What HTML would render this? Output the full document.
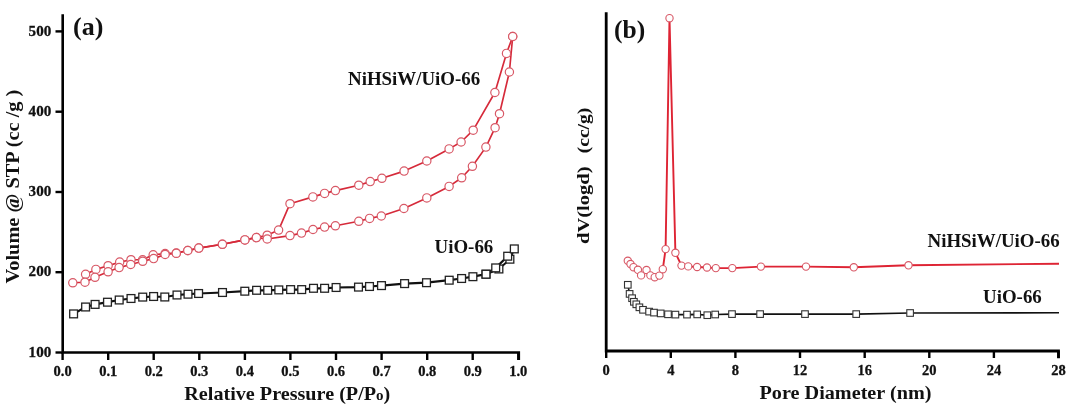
<!DOCTYPE html>
<html><head><meta charset="utf-8"><style>
html,body{margin:0;padding:0;background:#fff;}
svg{display:block;will-change:transform;}
text{font-family:"Liberation Serif", serif;font-weight:bold;fill:#111;}
.tk{stroke:#111;stroke-width:0.3px;}
.tk{font-size:14.5px;}
.lab{font-size:26.5px;}
.leg{font-size:18.9px;}
.ttl{font-size:20.2px;}
</style></head><body>
<svg width="1069" height="410" viewBox="0 0 1069 410">
<rect width="1069" height="410" fill="#fff"/>
<path d="M62.7 14.3 V352.5 H518.8 V360" fill="none" stroke="#000" stroke-width="2.6" stroke-linejoin="miter"/>
<line x1="55.5" y1="31.4" x2="62.7" y2="31.4" stroke="#000" stroke-width="2.4"/>
<text x="51.2" y="35.6" text-anchor="end" class="tk" textLength="22.6" lengthAdjust="spacingAndGlyphs">500</text>
<line x1="55.5" y1="111.7" x2="62.7" y2="111.7" stroke="#000" stroke-width="2.4"/>
<text x="51.2" y="115.9" text-anchor="end" class="tk" textLength="22.6" lengthAdjust="spacingAndGlyphs">400</text>
<line x1="55.5" y1="192.0" x2="62.7" y2="192.0" stroke="#000" stroke-width="2.4"/>
<text x="51.2" y="196.2" text-anchor="end" class="tk" textLength="22.6" lengthAdjust="spacingAndGlyphs">300</text>
<line x1="55.5" y1="272.2" x2="62.7" y2="272.2" stroke="#000" stroke-width="2.4"/>
<text x="51.2" y="276.4" text-anchor="end" class="tk" textLength="22.6" lengthAdjust="spacingAndGlyphs">200</text>
<line x1="55.5" y1="352.5" x2="62.7" y2="352.5" stroke="#000" stroke-width="2.4"/>
<text x="51.2" y="356.7" text-anchor="end" class="tk" textLength="22.6" lengthAdjust="spacingAndGlyphs">100</text>
<line x1="62.6" y1="352.5" x2="62.6" y2="360" stroke="#000" stroke-width="2.4"/>
<text x="62.6" y="376" text-anchor="middle" class="tk">0.0</text>
<line x1="108.2" y1="352.5" x2="108.2" y2="360" stroke="#000" stroke-width="2.4"/>
<text x="108.2" y="376" text-anchor="middle" class="tk">0.1</text>
<line x1="153.7" y1="352.5" x2="153.7" y2="360" stroke="#000" stroke-width="2.4"/>
<text x="153.7" y="376" text-anchor="middle" class="tk">0.2</text>
<line x1="199.3" y1="352.5" x2="199.3" y2="360" stroke="#000" stroke-width="2.4"/>
<text x="199.3" y="376" text-anchor="middle" class="tk">0.3</text>
<line x1="244.9" y1="352.5" x2="244.9" y2="360" stroke="#000" stroke-width="2.4"/>
<text x="244.9" y="376" text-anchor="middle" class="tk">0.4</text>
<line x1="290.4" y1="352.5" x2="290.4" y2="360" stroke="#000" stroke-width="2.4"/>
<text x="290.4" y="376" text-anchor="middle" class="tk">0.5</text>
<line x1="336.0" y1="352.5" x2="336.0" y2="360" stroke="#000" stroke-width="2.4"/>
<text x="336.0" y="376" text-anchor="middle" class="tk">0.6</text>
<line x1="381.6" y1="352.5" x2="381.6" y2="360" stroke="#000" stroke-width="2.4"/>
<text x="381.6" y="376" text-anchor="middle" class="tk">0.7</text>
<line x1="427.2" y1="352.5" x2="427.2" y2="360" stroke="#000" stroke-width="2.4"/>
<text x="427.2" y="376" text-anchor="middle" class="tk">0.8</text>
<line x1="472.7" y1="352.5" x2="472.7" y2="360" stroke="#000" stroke-width="2.4"/>
<text x="472.7" y="376" text-anchor="middle" class="tk">0.9</text>
<line x1="518.3" y1="352.5" x2="518.3" y2="360" stroke="#000" stroke-width="2.4"/>
<text x="518.3" y="376" text-anchor="middle" class="tk">1.0</text>
<polyline points="512.7,36.5 506.5,53.4 494.9,92.5 473.2,130.2 461.1,142 449.1,148.9 426.8,161 404.1,171.1 381.9,178.3 370.2,181.6 358.8,185.2 335.4,190.6 324.6,193.4 312.9,196.9 290,203.7 278.6,230.1 267.2,235.2 256.4,237.6 244.9,239.9 222.4,244.3 198.8,248.1 187.8,250.5 176.3,253.1 165.1,253.6 153.2,254.8 142.6,259.8 131,259.7 119.7,262.1 108.1,265.7 95.9,269.4 85.6,274.3" fill="none" stroke="#d62a3a" stroke-width="1.65" stroke-linejoin="round"/>
<polyline points="72.8,282.8 85,282.2 95,277.3 108.1,271.8 119.1,267.6 130.7,264.5 142.7,261.3 153.6,258.6 165.1,254.5 176.3,253.3 187.8,250.5 198.8,248.1 222.4,244.3 244.9,239.9 256.4,237.6 267.2,239.0 290,235.6 301.5,233.1 313,229.5 324.6,227.1 335.4,225.8 358.8,221.3 369.6,218.4 381.3,216 403.9,208.5 426.8,197.9 449.1,186.4 461.7,177.8 472.4,166.3 485.9,147.1 495.1,127.7 499.5,113.7 509.4,72 512.7,36.5" fill="none" stroke="#d62a3a" stroke-width="1.65" stroke-linejoin="round"/>
<circle cx="512.7" cy="36.5" r="4.15" fill="#fff" stroke="#d85866" stroke-width="1.2"/>
<circle cx="506.5" cy="53.4" r="4.15" fill="#fff" stroke="#d85866" stroke-width="1.2"/>
<circle cx="494.9" cy="92.5" r="4.15" fill="#fff" stroke="#d85866" stroke-width="1.2"/>
<circle cx="473.2" cy="130.2" r="4.15" fill="#fff" stroke="#d85866" stroke-width="1.2"/>
<circle cx="461.1" cy="142" r="4.15" fill="#fff" stroke="#d85866" stroke-width="1.2"/>
<circle cx="449.1" cy="148.9" r="4.15" fill="#fff" stroke="#d85866" stroke-width="1.2"/>
<circle cx="426.8" cy="161" r="4.15" fill="#fff" stroke="#d85866" stroke-width="1.2"/>
<circle cx="404.1" cy="171.1" r="4.15" fill="#fff" stroke="#d85866" stroke-width="1.2"/>
<circle cx="381.9" cy="178.3" r="4.15" fill="#fff" stroke="#d85866" stroke-width="1.2"/>
<circle cx="370.2" cy="181.6" r="4.15" fill="#fff" stroke="#d85866" stroke-width="1.2"/>
<circle cx="358.8" cy="185.2" r="4.15" fill="#fff" stroke="#d85866" stroke-width="1.2"/>
<circle cx="335.4" cy="190.6" r="4.15" fill="#fff" stroke="#d85866" stroke-width="1.2"/>
<circle cx="324.6" cy="193.4" r="4.15" fill="#fff" stroke="#d85866" stroke-width="1.2"/>
<circle cx="312.9" cy="196.9" r="4.15" fill="#fff" stroke="#d85866" stroke-width="1.2"/>
<circle cx="290" cy="203.7" r="4.15" fill="#fff" stroke="#d85866" stroke-width="1.2"/>
<circle cx="278.6" cy="230.1" r="4.15" fill="#fff" stroke="#d85866" stroke-width="1.2"/>
<circle cx="267.2" cy="235.2" r="4.15" fill="#fff" stroke="#d85866" stroke-width="1.2"/>
<circle cx="256.4" cy="237.6" r="4.15" fill="#fff" stroke="#d85866" stroke-width="1.2"/>
<circle cx="244.9" cy="239.9" r="4.15" fill="#fff" stroke="#d85866" stroke-width="1.2"/>
<circle cx="222.4" cy="244.3" r="4.15" fill="#fff" stroke="#d85866" stroke-width="1.2"/>
<circle cx="198.8" cy="248.1" r="4.15" fill="#fff" stroke="#d85866" stroke-width="1.2"/>
<circle cx="187.8" cy="250.5" r="4.15" fill="#fff" stroke="#d85866" stroke-width="1.2"/>
<circle cx="176.3" cy="253.1" r="4.15" fill="#fff" stroke="#d85866" stroke-width="1.2"/>
<circle cx="165.1" cy="253.6" r="4.15" fill="#fff" stroke="#d85866" stroke-width="1.2"/>
<circle cx="153.2" cy="254.8" r="4.15" fill="#fff" stroke="#d85866" stroke-width="1.2"/>
<circle cx="142.6" cy="259.8" r="4.15" fill="#fff" stroke="#d85866" stroke-width="1.2"/>
<circle cx="131" cy="259.7" r="4.15" fill="#fff" stroke="#d85866" stroke-width="1.2"/>
<circle cx="119.7" cy="262.1" r="4.15" fill="#fff" stroke="#d85866" stroke-width="1.2"/>
<circle cx="108.1" cy="265.7" r="4.15" fill="#fff" stroke="#d85866" stroke-width="1.2"/>
<circle cx="95.9" cy="269.4" r="4.15" fill="#fff" stroke="#d85866" stroke-width="1.2"/>
<circle cx="85.6" cy="274.3" r="4.15" fill="#fff" stroke="#d85866" stroke-width="1.2"/>
<circle cx="72.8" cy="282.8" r="4.15" fill="#fff" stroke="#d85866" stroke-width="1.2"/>
<circle cx="85" cy="282.2" r="4.15" fill="#fff" stroke="#d85866" stroke-width="1.2"/>
<circle cx="95" cy="277.3" r="4.15" fill="#fff" stroke="#d85866" stroke-width="1.2"/>
<circle cx="108.1" cy="271.8" r="4.15" fill="#fff" stroke="#d85866" stroke-width="1.2"/>
<circle cx="119.1" cy="267.6" r="4.15" fill="#fff" stroke="#d85866" stroke-width="1.2"/>
<circle cx="130.7" cy="264.5" r="4.15" fill="#fff" stroke="#d85866" stroke-width="1.2"/>
<circle cx="142.7" cy="261.3" r="4.15" fill="#fff" stroke="#d85866" stroke-width="1.2"/>
<circle cx="153.6" cy="258.6" r="4.15" fill="#fff" stroke="#d85866" stroke-width="1.2"/>
<circle cx="165.1" cy="254.5" r="4.15" fill="#fff" stroke="#d85866" stroke-width="1.2"/>
<circle cx="176.3" cy="253.3" r="4.15" fill="#fff" stroke="#d85866" stroke-width="1.2"/>
<circle cx="187.8" cy="250.5" r="4.15" fill="#fff" stroke="#d85866" stroke-width="1.2"/>
<circle cx="198.8" cy="248.1" r="4.15" fill="#fff" stroke="#d85866" stroke-width="1.2"/>
<circle cx="222.4" cy="244.3" r="4.15" fill="#fff" stroke="#d85866" stroke-width="1.2"/>
<circle cx="244.9" cy="239.9" r="4.15" fill="#fff" stroke="#d85866" stroke-width="1.2"/>
<circle cx="256.4" cy="237.6" r="4.15" fill="#fff" stroke="#d85866" stroke-width="1.2"/>
<circle cx="267.2" cy="239.0" r="4.15" fill="#fff" stroke="#d85866" stroke-width="1.2"/>
<circle cx="290" cy="235.6" r="4.15" fill="#fff" stroke="#d85866" stroke-width="1.2"/>
<circle cx="301.5" cy="233.1" r="4.15" fill="#fff" stroke="#d85866" stroke-width="1.2"/>
<circle cx="313" cy="229.5" r="4.15" fill="#fff" stroke="#d85866" stroke-width="1.2"/>
<circle cx="324.6" cy="227.1" r="4.15" fill="#fff" stroke="#d85866" stroke-width="1.2"/>
<circle cx="335.4" cy="225.8" r="4.15" fill="#fff" stroke="#d85866" stroke-width="1.2"/>
<circle cx="358.8" cy="221.3" r="4.15" fill="#fff" stroke="#d85866" stroke-width="1.2"/>
<circle cx="369.6" cy="218.4" r="4.15" fill="#fff" stroke="#d85866" stroke-width="1.2"/>
<circle cx="381.3" cy="216" r="4.15" fill="#fff" stroke="#d85866" stroke-width="1.2"/>
<circle cx="403.9" cy="208.5" r="4.15" fill="#fff" stroke="#d85866" stroke-width="1.2"/>
<circle cx="426.8" cy="197.9" r="4.15" fill="#fff" stroke="#d85866" stroke-width="1.2"/>
<circle cx="449.1" cy="186.4" r="4.15" fill="#fff" stroke="#d85866" stroke-width="1.2"/>
<circle cx="461.7" cy="177.8" r="4.15" fill="#fff" stroke="#d85866" stroke-width="1.2"/>
<circle cx="472.4" cy="166.3" r="4.15" fill="#fff" stroke="#d85866" stroke-width="1.2"/>
<circle cx="485.9" cy="147.1" r="4.15" fill="#fff" stroke="#d85866" stroke-width="1.2"/>
<circle cx="495.1" cy="127.7" r="4.15" fill="#fff" stroke="#d85866" stroke-width="1.2"/>
<circle cx="499.5" cy="113.7" r="4.15" fill="#fff" stroke="#d85866" stroke-width="1.2"/>
<circle cx="509.4" cy="72" r="4.15" fill="#fff" stroke="#d85866" stroke-width="1.2"/>
<circle cx="512.7" cy="36.5" r="4.15" fill="#fff" stroke="#d85866" stroke-width="1.2"/>
<polyline points="514.3,248.9 509.9,259.2 498.9,269 486,274.2" fill="none" stroke="#111" stroke-width="2.0" stroke-linejoin="round"/>
<polyline points="73.6,313.9 85.6,307.0 95.1,304.4 107.5,302.2 119.2,300.0 131,298.5 142.7,297.1 153.6,296.5 164.8,297.0 177,295.0 188,294.2 198.6,293.5 222.5,292.5 244.8,291.2 256.6,290.3 267.7,290.3 278.8,289.9 290.6,289.6 301.7,289.6 313.5,288.3 324.6,288.3 336.1,287.5 358.5,287.1 369.5,286.5 381.5,285.6 404.6,283.6 426.5,282.7 449.2,280.2 461.6,278.5 472.9,276.7 486,274.2 495.7,267.9 507.7,256.2 514.3,248.9" fill="none" stroke="#111" stroke-width="2.2" stroke-linejoin="round"/>
<rect x="506.0" y="255.3" width="7.8" height="7.8" fill="#fff" stroke="#222" stroke-width="1.3"/>
<rect x="495.0" y="265.1" width="7.8" height="7.8" fill="#fff" stroke="#222" stroke-width="1.3"/>
<rect x="482.1" y="270.3" width="7.8" height="7.8" fill="#fff" stroke="#222" stroke-width="1.3"/>
<rect x="69.7" y="310.0" width="7.8" height="7.8" fill="#fff" stroke="#222" stroke-width="1.3"/>
<rect x="81.7" y="303.1" width="7.8" height="7.8" fill="#fff" stroke="#222" stroke-width="1.3"/>
<rect x="91.2" y="300.5" width="7.8" height="7.8" fill="#fff" stroke="#222" stroke-width="1.3"/>
<rect x="103.6" y="298.3" width="7.8" height="7.8" fill="#fff" stroke="#222" stroke-width="1.3"/>
<rect x="115.3" y="296.1" width="7.8" height="7.8" fill="#fff" stroke="#222" stroke-width="1.3"/>
<rect x="127.1" y="294.6" width="7.8" height="7.8" fill="#fff" stroke="#222" stroke-width="1.3"/>
<rect x="138.8" y="293.2" width="7.8" height="7.8" fill="#fff" stroke="#222" stroke-width="1.3"/>
<rect x="149.7" y="292.6" width="7.8" height="7.8" fill="#fff" stroke="#222" stroke-width="1.3"/>
<rect x="160.9" y="293.1" width="7.8" height="7.8" fill="#fff" stroke="#222" stroke-width="1.3"/>
<rect x="173.1" y="291.1" width="7.8" height="7.8" fill="#fff" stroke="#222" stroke-width="1.3"/>
<rect x="184.1" y="290.3" width="7.8" height="7.8" fill="#fff" stroke="#222" stroke-width="1.3"/>
<rect x="194.7" y="289.6" width="7.8" height="7.8" fill="#fff" stroke="#222" stroke-width="1.3"/>
<rect x="218.6" y="288.6" width="7.8" height="7.8" fill="#fff" stroke="#222" stroke-width="1.3"/>
<rect x="240.9" y="287.3" width="7.8" height="7.8" fill="#fff" stroke="#222" stroke-width="1.3"/>
<rect x="252.7" y="286.4" width="7.8" height="7.8" fill="#fff" stroke="#222" stroke-width="1.3"/>
<rect x="263.8" y="286.4" width="7.8" height="7.8" fill="#fff" stroke="#222" stroke-width="1.3"/>
<rect x="274.9" y="286.0" width="7.8" height="7.8" fill="#fff" stroke="#222" stroke-width="1.3"/>
<rect x="286.7" y="285.7" width="7.8" height="7.8" fill="#fff" stroke="#222" stroke-width="1.3"/>
<rect x="297.8" y="285.7" width="7.8" height="7.8" fill="#fff" stroke="#222" stroke-width="1.3"/>
<rect x="309.6" y="284.4" width="7.8" height="7.8" fill="#fff" stroke="#222" stroke-width="1.3"/>
<rect x="320.7" y="284.4" width="7.8" height="7.8" fill="#fff" stroke="#222" stroke-width="1.3"/>
<rect x="332.2" y="283.6" width="7.8" height="7.8" fill="#fff" stroke="#222" stroke-width="1.3"/>
<rect x="354.6" y="283.2" width="7.8" height="7.8" fill="#fff" stroke="#222" stroke-width="1.3"/>
<rect x="365.6" y="282.6" width="7.8" height="7.8" fill="#fff" stroke="#222" stroke-width="1.3"/>
<rect x="377.6" y="281.7" width="7.8" height="7.8" fill="#fff" stroke="#222" stroke-width="1.3"/>
<rect x="400.7" y="279.7" width="7.8" height="7.8" fill="#fff" stroke="#222" stroke-width="1.3"/>
<rect x="422.6" y="278.8" width="7.8" height="7.8" fill="#fff" stroke="#222" stroke-width="1.3"/>
<rect x="445.3" y="276.3" width="7.8" height="7.8" fill="#fff" stroke="#222" stroke-width="1.3"/>
<rect x="457.7" y="274.6" width="7.8" height="7.8" fill="#fff" stroke="#222" stroke-width="1.3"/>
<rect x="469.0" y="272.8" width="7.8" height="7.8" fill="#fff" stroke="#222" stroke-width="1.3"/>
<rect x="482.1" y="270.3" width="7.8" height="7.8" fill="#fff" stroke="#222" stroke-width="1.3"/>
<rect x="491.8" y="264.0" width="7.8" height="7.8" fill="#fff" stroke="#222" stroke-width="1.3"/>
<rect x="503.8" y="252.3" width="7.8" height="7.8" fill="#fff" stroke="#222" stroke-width="1.3"/>
<rect x="510.4" y="245.0" width="7.8" height="7.8" fill="#fff" stroke="#222" stroke-width="1.3"/>
<text x="73" y="34.5" class="lab" style="font-size:26px">(a)</text>
<text x="348" y="84.8" class="leg">NiHSiW/UiO-66</text>
<text x="434.5" y="252.6" class="leg">UiO-66</text>
<text x="184.3" y="399.6" class="ttl" style="font-size:18.8px" textLength="206" lengthAdjust="spacingAndGlyphs">Relative Pressure (P/P<tspan font-size="14">o</tspan>)</text>
<text transform="translate(19 283.6) rotate(-90)" class="ttl" style="font-size:18.3px" textLength="194" lengthAdjust="spacingAndGlyphs">Volume @ STP (cc /g )</text>
<path d="M606.2 12.2 V351.0 H1058.5 V358.2" fill="none" stroke="#000" stroke-width="2.8"/>
<line x1="606.2" y1="351.0" x2="606.2" y2="358" stroke="#000" stroke-width="2.4"/>
<text x="606.2" y="374.5" text-anchor="middle" class="tk">0</text>
<line x1="670.8" y1="351.0" x2="670.8" y2="358" stroke="#000" stroke-width="2.4"/>
<text x="670.8" y="374.5" text-anchor="middle" class="tk">4</text>
<line x1="735.4" y1="351.0" x2="735.4" y2="358" stroke="#000" stroke-width="2.4"/>
<text x="735.4" y="374.5" text-anchor="middle" class="tk">8</text>
<line x1="800.0" y1="351.0" x2="800.0" y2="358" stroke="#000" stroke-width="2.4"/>
<text x="800.0" y="374.5" text-anchor="middle" class="tk">12</text>
<line x1="864.7" y1="351.0" x2="864.7" y2="358" stroke="#000" stroke-width="2.4"/>
<text x="864.7" y="374.5" text-anchor="middle" class="tk">16</text>
<line x1="929.3" y1="351.0" x2="929.3" y2="358" stroke="#000" stroke-width="2.4"/>
<text x="929.3" y="374.5" text-anchor="middle" class="tk">20</text>
<line x1="993.9" y1="351.0" x2="993.9" y2="358" stroke="#000" stroke-width="2.4"/>
<text x="993.9" y="374.5" text-anchor="middle" class="tk">24</text>
<line x1="1058.5" y1="351.0" x2="1058.5" y2="358" stroke="#000" stroke-width="2.4"/>
<text x="1058.5" y="374.5" text-anchor="middle" class="tk">28</text>
<polyline points="627.8,260.8 630.5,264 633.5,267.2 637.9,269.8 641.1,275.4 646.5,270 650.4,275.4 654.7,277.2 659.4,275.6 662.8,269.2 665.6,249.1 669.5,18.2 675.4,252.8 681.5,265.6 688.2,266.4 697.1,267 707,267.5 715.8,268.1 732.3,268.1 760.9,266.6 806,266.6 853.8,267.3 908.5,265.3 1059,263.7" fill="none" stroke="#de2434" stroke-width="1.9" stroke-linejoin="round"/>
<circle cx="627.8" cy="260.8" r="3.65" fill="#fff" stroke="#d85866" stroke-width="1.1"/>
<circle cx="630.5" cy="264" r="3.65" fill="#fff" stroke="#d85866" stroke-width="1.1"/>
<circle cx="633.5" cy="267.2" r="3.65" fill="#fff" stroke="#d85866" stroke-width="1.1"/>
<circle cx="637.9" cy="269.8" r="3.65" fill="#fff" stroke="#d85866" stroke-width="1.1"/>
<circle cx="641.1" cy="275.4" r="3.65" fill="#fff" stroke="#d85866" stroke-width="1.1"/>
<circle cx="646.5" cy="270" r="3.65" fill="#fff" stroke="#d85866" stroke-width="1.1"/>
<circle cx="650.4" cy="275.4" r="3.65" fill="#fff" stroke="#d85866" stroke-width="1.1"/>
<circle cx="654.7" cy="277.2" r="3.65" fill="#fff" stroke="#d85866" stroke-width="1.1"/>
<circle cx="659.4" cy="275.6" r="3.65" fill="#fff" stroke="#d85866" stroke-width="1.1"/>
<circle cx="662.8" cy="269.2" r="3.65" fill="#fff" stroke="#d85866" stroke-width="1.1"/>
<circle cx="665.6" cy="249.1" r="3.65" fill="#fff" stroke="#d85866" stroke-width="1.1"/>
<circle cx="669.5" cy="18.2" r="3.65" fill="#fff" stroke="#d85866" stroke-width="1.1"/>
<circle cx="675.4" cy="252.8" r="3.65" fill="#fff" stroke="#d85866" stroke-width="1.1"/>
<circle cx="681.5" cy="265.6" r="3.65" fill="#fff" stroke="#d85866" stroke-width="1.1"/>
<circle cx="688.2" cy="266.4" r="3.65" fill="#fff" stroke="#d85866" stroke-width="1.1"/>
<circle cx="697.1" cy="267" r="3.65" fill="#fff" stroke="#d85866" stroke-width="1.1"/>
<circle cx="707" cy="267.5" r="3.65" fill="#fff" stroke="#d85866" stroke-width="1.1"/>
<circle cx="715.8" cy="268.1" r="3.65" fill="#fff" stroke="#d85866" stroke-width="1.1"/>
<circle cx="732.3" cy="268.1" r="3.65" fill="#fff" stroke="#d85866" stroke-width="1.1"/>
<circle cx="760.9" cy="266.6" r="3.65" fill="#fff" stroke="#d85866" stroke-width="1.1"/>
<circle cx="806" cy="266.6" r="3.65" fill="#fff" stroke="#d85866" stroke-width="1.1"/>
<circle cx="853.8" cy="267.3" r="3.65" fill="#fff" stroke="#d85866" stroke-width="1.1"/>
<circle cx="908.5" cy="265.3" r="3.65" fill="#fff" stroke="#d85866" stroke-width="1.1"/>
<polyline points="627.8,284.8 629.6,293.9 632.1,298.2 633.9,301.8 636.3,304.3 639.4,307.3 643,309.8 649.1,311.6 654,312.6 660.7,313.4 668,314.3 675.4,314.6 687,314.6 697.2,314.4 707.3,315.2 715.2,314.5 732,314.1 760.1,314.1 805,314.1 856.2,314.1 910.1,313 1059,312.8" fill="none" stroke="#111" stroke-width="1.6" stroke-linejoin="round"/>
<rect x="624.5" y="281.5" width="6.6" height="6.6" fill="#fff" stroke="#333" stroke-width="1.1"/>
<rect x="626.3" y="290.6" width="6.6" height="6.6" fill="#fff" stroke="#333" stroke-width="1.1"/>
<rect x="628.8" y="294.9" width="6.6" height="6.6" fill="#fff" stroke="#333" stroke-width="1.1"/>
<rect x="630.6" y="298.5" width="6.6" height="6.6" fill="#fff" stroke="#333" stroke-width="1.1"/>
<rect x="633.0" y="301.0" width="6.6" height="6.6" fill="#fff" stroke="#333" stroke-width="1.1"/>
<rect x="636.1" y="304.0" width="6.6" height="6.6" fill="#fff" stroke="#333" stroke-width="1.1"/>
<rect x="639.7" y="306.5" width="6.6" height="6.6" fill="#fff" stroke="#333" stroke-width="1.1"/>
<rect x="645.8" y="308.3" width="6.6" height="6.6" fill="#fff" stroke="#333" stroke-width="1.1"/>
<rect x="650.7" y="309.3" width="6.6" height="6.6" fill="#fff" stroke="#333" stroke-width="1.1"/>
<rect x="657.4" y="310.1" width="6.6" height="6.6" fill="#fff" stroke="#333" stroke-width="1.1"/>
<rect x="664.7" y="311.0" width="6.6" height="6.6" fill="#fff" stroke="#333" stroke-width="1.1"/>
<rect x="672.1" y="311.3" width="6.6" height="6.6" fill="#fff" stroke="#333" stroke-width="1.1"/>
<rect x="683.7" y="311.3" width="6.6" height="6.6" fill="#fff" stroke="#333" stroke-width="1.1"/>
<rect x="693.9" y="311.1" width="6.6" height="6.6" fill="#fff" stroke="#333" stroke-width="1.1"/>
<rect x="704.0" y="311.9" width="6.6" height="6.6" fill="#fff" stroke="#333" stroke-width="1.1"/>
<rect x="711.9" y="311.2" width="6.6" height="6.6" fill="#fff" stroke="#333" stroke-width="1.1"/>
<rect x="728.7" y="310.8" width="6.6" height="6.6" fill="#fff" stroke="#333" stroke-width="1.1"/>
<rect x="756.8" y="310.8" width="6.6" height="6.6" fill="#fff" stroke="#333" stroke-width="1.1"/>
<rect x="801.7" y="310.8" width="6.6" height="6.6" fill="#fff" stroke="#333" stroke-width="1.1"/>
<rect x="852.9" y="310.8" width="6.6" height="6.6" fill="#fff" stroke="#333" stroke-width="1.1"/>
<rect x="906.8" y="309.7" width="6.6" height="6.6" fill="#fff" stroke="#333" stroke-width="1.1"/>
<text x="614" y="37.8" class="lab" style="font-size:25.5px">(b)</text>
<text x="927.5" y="247.3" class="leg">NiHSiW/UiO-66</text>
<text x="983" y="302.7" class="leg">UiO-66</text>
<text x="759.5" y="398.5" class="ttl" style="font-size:19.2px" textLength="172" lengthAdjust="spacingAndGlyphs">Pore Diameter (nm)</text>
<text transform="translate(589.3 244) rotate(-90)" class="ttl" style="font-size:17.5px" textLength="77.5" lengthAdjust="spacingAndGlyphs">dV(logd)</text>
<text transform="translate(589.3 153.2) rotate(-90)" class="ttl" style="font-size:17.5px" textLength="45.5" lengthAdjust="spacingAndGlyphs">(cc/g)</text>
</svg></body></html>
